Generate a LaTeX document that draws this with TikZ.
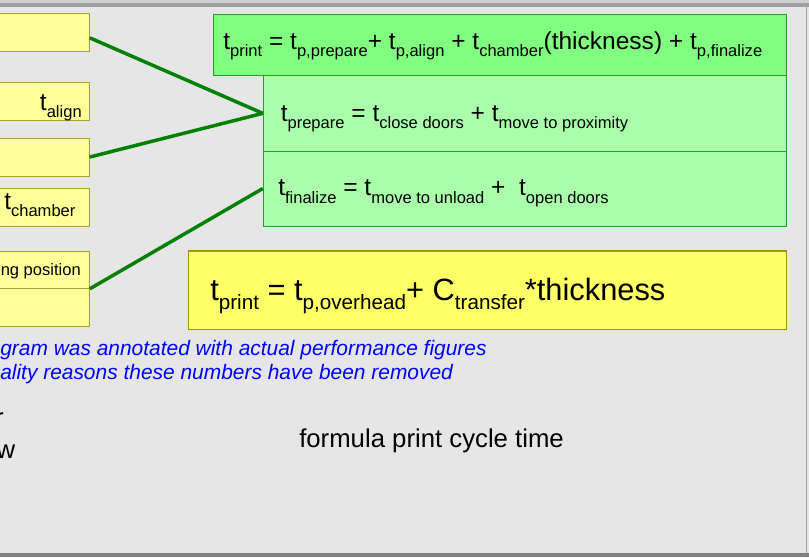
\documentclass[tikz,border=0pt]{standalone}
\usepackage{fontspec}
\setmainfont{Liberation Sans}
\usepackage[dvipsnames]{xcolor}
\usetikzlibrary{calc,fit}

\definecolor{panelGray}{HTML}{E6E6E6}
\definecolor{rimGray}{HTML}{A0A0A0}
\definecolor{rimLight}{HTML}{CFCFCF}
\definecolor{footGray}{HTML}{808080}
\definecolor{paleYellow}{HTML}{FFFF99}
\definecolor{oliveEdge}{HTML}{A3A336}
\definecolor{sumYellow}{HTML}{FFFF66}
\definecolor{sumEdge}{HTML}{999900}
\definecolor{mintGreen}{HTML}{80FF80}
\definecolor{paleGreen}{HTML}{AAFFAA}
\definecolor{greenEdge}{HTML}{22A022}
\definecolor{linkGreen}{HTML}{008000}
\definecolor{noteBlue}{HTML}{0000FF}

\newcommand{\fMain}{\fontsize{18.4}{22}\selectfont}
\newcommand{\fSub}{\fontsize{12.4}{15}\selectfont}
\newcommand{\fBig}{\fontsize{23.1}{28}\selectfont}
\newcommand{\fBigSub}{\fontsize{15.5}{19}\selectfont}
\newcommand{\fPlain}{\fontsize{19.3}{23}\selectfont}
\newcommand{\tsub}[1]{t\raisebox{-5.8pt}{\fSub #1}}
\newcommand{\bigsub}[2]{#1\raisebox{-7.3pt}{\fBigSub #2}}

\begin{document}
\begin{tikzpicture}[x=0.75pt,y=-0.75pt,
    every node/.style={inner sep=0pt},
    tagbox/.style={draw=oliveEdge,fill=paleYellow,line width=0.75pt},
    sumbox/.style={draw=greenEdge,fill=mintGreen,line width=0.75pt},
    partbox/.style={draw=greenEdge,fill=paleGreen,line width=0.75pt},
    totalbox/.style={draw=sumEdge,fill=sumYellow,line width=1.1pt},
    link/.style={draw=linkGreen,line width=2.6pt},
    txt/.style={anchor=base west,font=\fMain},
    note/.style={anchor=base west,text=noteBlue,font=\fontsize{15.7}{19}\selectfont\itshape}]
    \useasboundingbox (0,0) rectangle (809,557);
    \fill[panelGray] (0,0) rectangle (809,557);
    \fill[rimLight] (0,0) rectangle (809,2.7);
    \fill[rimGray] (0,2.7) rectangle (809,6.7);
    \fill[footGray] (0,553) rectangle (809,557);
    \draw[rimGray,line width=0.9pt] (806.5,6.7) -- (806.5,553);

    \node[tagbox,fit={(-3,13) (89.3,51)}] (tagA) {};
    \node[tagbox,fit={(-3,82) (89.3,120)}] (tagB) {};
    \node[tagbox,fit={(-3,138) (89.3,176)}] (tagC) {};
    \node[tagbox,fit={(-3,188) (89.3,226)}] (tagD) {};
    \node[tagbox,fit={(-3,251) (89.3,288.3)}] (tagE) {};
    \node[tagbox,fit={(-3,288.3) (89.3,326)}] (tagF) {};

    \node[sumbox,fit={(213.3,14) (786.5,75.7)}] (total) {};
    \node[partbox,fit={(263.3,75.7) (786.5,151)}] (prep) {};
    \node[partbox,fit={(263.3,151) (786.5,226)}] (fin) {};
    \node[totalbox,fit={(188.3,251) (786.5,329.3)}] (model) {};

    \node[txt,anchor=base east] (alignTxt) at (82,110) {\tsub{align}};
    \node[txt] (chamberTxt) at (4,209) {\tsub{chamber}};
    \node[anchor=base east,font=\fSub] (loadTxt) at (81,275) {ng position};

    \node[txt] (totalTxt) at (223,49) {\tsub{print} = \tsub{p,prepare}+ \tsub{p,align} + \tsub{chamber}(thickness) + \tsub{p,finalize}};
    \node[txt] (prepTxt) at (280.5,121) {\tsub{prepare} = \tsub{close doors} + \tsub{move to proximity}};
    \node[txt] (finTxt) at (278,195.7) {\tsub{finalize} = \tsub{move to unload} +\ \ \tsub{open doors}};
    \node[anchor=base west,font=\fBig] (modelTxt) at (210,300) {\bigsub{t}{print} = \bigsub{t}{p,overhead}+ \bigsub{C}{transfer}*thickness};

    \node[note] (noteA) at (0,355) {gram was annotated with actual performance figures};
    \node[note] (noteB) at (0,379.5) {ality reasons these numbers have been removed};
    \node[anchor=base east,font=\fPlain] (capA) at (4,426.7) {r};
    \node[anchor=base east,font=\fPlain] (capB) at (15.5,458) {w};
    \node[anchor=base west,font=\fPlain] (capC) at (299,447.7) {formula print cycle time};

    \draw[link] ($(tagA.north east)!0.65!(tagA.south east)$) -- (prep.west);
    \draw[link] (tagC.east) -- (prep.west);
    \draw[link] (tagE.south east) -- (fin.west);
\end{tikzpicture}
\end{document}
